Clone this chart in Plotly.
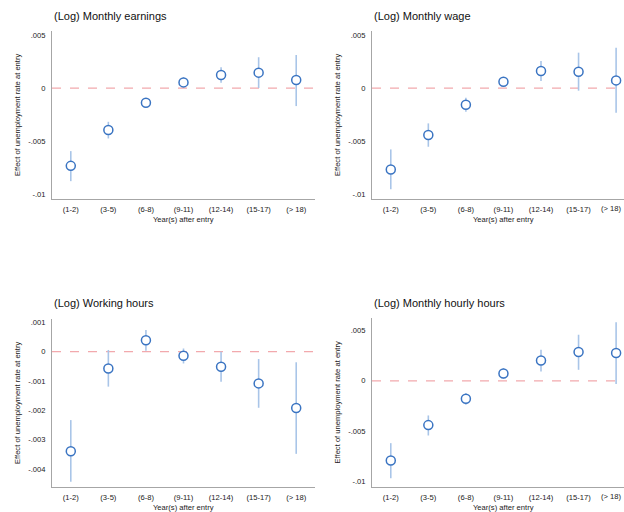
import plotly.graph_objects as go

# Entry cohorts (years after labour-market entry)
categories = ["(1-2)", "(3-5)", "(6-8)", "(9-11)", "(12-14)", "(15-17)", "(> 18)"]

# (Log) Monthly earnings
earn_coef = [-0.00733, -0.00396, -0.00138, 0.00053, 0.00123, 0.00145, 0.00075]
earn_lo = [-0.00877, -0.00475, -0.00176, 0.00012, 0.00050, 0.00000, -0.00170]
earn_hi = [-0.00594, -0.00318, -0.00097, 0.00101, 0.00195, 0.00290, 0.00311]

# (Log) Monthly wage
wage_coef = [-0.00767, -0.00443, -0.00157, 0.00059, 0.00160, 0.00154, 0.00072]
wage_lo = [-0.00953, -0.00553, -0.00223, 0.00019, 0.00066, -0.00025, -0.00233]
wage_hi = [-0.00578, -0.00333, -0.00091, 0.00101, 0.00255, 0.00333, 0.00380]

# (Log) Working hours
hours_coef = [-0.00339, -0.00057, 0.00039, -0.00014, -0.00051, -0.00108, -0.00192]
hours_lo = [-0.00443, -0.00119, 0.00003, -0.00040, -0.00102, -0.00191, -0.00348]
hours_hi = [-0.00233, 0.00006, 0.00074, 0.00011, 0.00000, -0.00025, -0.00036]

# (Log) Monthly hourly hours
hourly_coef = [-0.00791, -0.00440, -0.00179, 0.00073, 0.00202, 0.00285, 0.00275]
hourly_lo = [-0.00967, -0.00543, -0.00238, 0.00020, 0.00093, 0.00109, -0.00033]
hourly_hi = [-0.00619, -0.00344, -0.00123, 0.00126, 0.00308, 0.00457, 0.00580]

titles = ["(Log) Monthly earnings", "(Log) Monthly wage",
          "(Log) Working hours", "(Log) Monthly hourly hours"]

W, H = 624, 512
MARK = "#3a74c2"
CI = "#a9c5e8"
ZERO = "#f2a9ad"
AXIS = "#a6a6a6"
FONT = "Liberation Sans, Arial, sans-serif"
TICK_SIZE = 7.6

panels = [
    dict(coef=earn_coef, lo=earn_lo, hi=earn_hi,
         xpx=(52, 315), xr=(-0.5, 6.5), ypx=(31, 199), yr=(-0.01045, 0.00537),
         tv=[0.005, 0, -0.005, -0.01], tt=[".005", "0", "-.005", "-.01"],
         title_y=16, xtick_y=208, xtitle_y=219, edge=False),
    dict(coef=wage_coef, lo=wage_lo, hi=wage_hi,
         xpx=(372, 624), xr=(-0.5, 6.21), ypx=(31, 199), yr=(-0.01045, 0.00537),
         tv=[0.005, 0, -0.005, -0.01], tt=[".005", "0", "-.005", "-.01"],
         title_y=16, xtick_y=208, xtitle_y=219, edge=True),
    dict(coef=hours_coef, lo=hours_lo, hi=hours_hi,
         xpx=(52, 315), xr=(-0.5, 6.5), ypx=(319, 487), yr=(-0.00461, 0.001115),
         tv=[0.001, 0, -0.001, -0.002, -0.003, -0.004],
         tt=[".001", "0", "-.001", "-.002", "-.003", "-.004"],
         title_y=303, xtick_y=496, xtitle_y=507, edge=False),
    dict(coef=hourly_coef, lo=hourly_lo, hi=hourly_hi,
         xpx=(372, 624), xr=(-0.5, 6.21), ypx=(318, 487), yr=(-0.01054, 0.00623),
         tv=[0.005, 0, -0.005, -0.01], tt=[".005", "0", "-.005", "-.01"],
         title_y=303, xtick_y=496, xtitle_y=507, edge=True),
]

fig = go.Figure()
annotations = []
shapes = []
xs = list(range(len(categories)))

for i, p in enumerate(panels):
    n = i + 1
    xa = "x" if n == 1 else f"x{n}"
    ya = "y" if n == 1 else f"y{n}"
    xkey = "xaxis" if n == 1 else f"xaxis{n}"
    ykey = "yaxis" if n == 1 else f"yaxis{n}"

    # confidence interval segments
    cx, cy = [], []
    for x, lo, hi in zip(xs, p["lo"], p["hi"]):
        cx += [x, x, None]
        cy += [lo, hi, None]
    fig.add_trace(go.Scatter(x=cx, y=cy, mode="lines", xaxis=xa, yaxis=ya,
                             line=dict(color=CI, width=1.6), hoverinfo="skip",
                             showlegend=False))
    # point estimates
    fig.add_trace(go.Scatter(x=xs, y=p["coef"], mode="markers", xaxis=xa, yaxis=ya,
                             marker=dict(symbol="circle", size=9, color="white",
                                         line=dict(color=MARK, width=1.5)),
                             showlegend=False))

    x0, x1 = p["xpx"]
    y0, y1 = p["ypx"]
    # on the right-hand panels the last label would run past the page edge,
    # so it is drawn as an annotation pinned to the right border
    ticktext = categories[:-1] + [""] if p["edge"] else categories
    fig.layout[xkey] = dict(
        domain=[x0 / W, x1 / W], range=list(p["xr"]), anchor=ya,
        tickvals=xs, ticktext=ticktext, showgrid=False, zeroline=False,
        showline=True, linecolor=AXIS, linewidth=1, ticks="", ticklabelstandoff=3,
        tickfont=dict(family=FONT, size=TICK_SIZE, color="#222"))
    fig.layout[ykey] = dict(
        domain=[1 - y1 / H, 1 - y0 / H], range=list(p["yr"]), anchor=xa,
        tickvals=p["tv"], ticktext=p["tt"], showgrid=False, zeroline=False,
        showline=True, linecolor=AXIS, linewidth=1, ticks="", ticklabelstandoff=4,
        tickfont=dict(family=FONT, size=TICK_SIZE, color="#222"))
    if p["edge"]:
        annotations.append(dict(text=categories[-1], xref="paper", yref="paper",
                                x=1, y=1 - p["xtick_y"] / H, xanchor="right",
                                yanchor="middle", showarrow=False, borderpad=0,
                                xshift=-1,
                                font=dict(family=FONT, size=TICK_SIZE, color="#222")))

    # reference line at zero
    shapes.append(dict(type="line", xref=f"{xa} domain", yref=ya, x0=0, x1=1,
                       y0=0, y1=0, line=dict(color=ZERO, width=1.3, dash="dash"),
                       layer="below"))

    # panel title
    annotations.append(dict(text=titles[i], xref="paper", yref="paper",
                            x=x0 / W, y=1 - p["title_y"] / H, xanchor="left",
                            yanchor="middle", showarrow=False,
                            font=dict(family=FONT, size=11, color="#111")))
    # axis titles
    annotations.append(dict(text="Year(s) after entry", xref=xa, yref="paper",
                            x=3, y=1 - p["xtitle_y"] / H, xanchor="center",
                            yanchor="middle", showarrow=False,
                            font=dict(family=FONT, size=7.6, color="#222")))
    annotations.append(dict(text="Effect of unemployment rate at entry",
                            xref="paper", yref="paper", x=(x0 - 35) / W,
                            y=1 - (y0 + y1) / 2 / H, xanchor="center",
                            yanchor="middle", textangle=-90, showarrow=False,
                            font=dict(family=FONT, size=7.6, color="#222")))

fig.update_layout(width=W, height=H, margin=dict(l=0, r=0, t=0, b=0),
                  plot_bgcolor="white", paper_bgcolor="white",
                  annotations=annotations, shapes=shapes, showlegend=False)

fig.write_html("out.html")
